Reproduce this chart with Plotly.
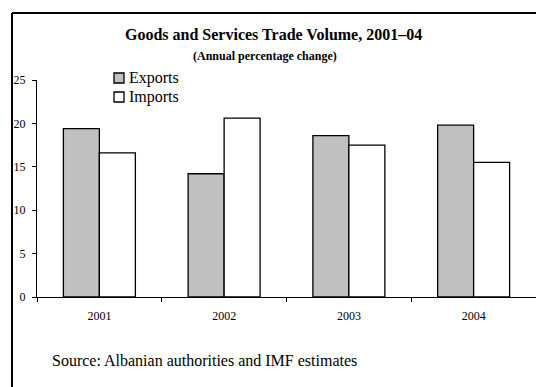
import plotly.graph_objects as go

# Trade volume growth, annual percentage change
years = ["2001", "2002", "2003", "2004"]
exports = [19.4, 14.2, 18.6, 19.8]
imports = [16.6, 20.6, 17.5, 15.5]

series_names = ["Exports", "Imports"]
series_fill = ["#c0c0c0", "white"]

W, H = 536, 387
ML, MR, MT, MB = 37, 0, 80, 90
PW = W - ML - MR
PH = H - MT - MB

SERIF = "Liberation Serif"


def px_x(px):
    # pixel column -> paper x
    return (px - ML) / PW


def px_y(py):
    # pixel row -> paper y
    return (H - MB - py) / PH


fig = go.Figure()
for name, vals, fill in zip(series_names, [exports, imports], series_fill):
    fig.add_trace(go.Bar(
        name=name, x=years, y=vals, showlegend=False,
        marker=dict(color=fill, line=dict(color="black", width=1.3)),
    ))

# outer frame (top and left edges)
frame = dict(color="black", width=2)
fig.add_shape(type="line", xref="paper", yref="paper",
              x0=px_x(12), x1=px_x(W + 5), y0=px_y(13), y1=px_y(13), line=frame)
fig.add_shape(type="line", xref="paper", yref="paper",
              x0=px_x(12), x1=px_x(12), y0=px_y(13), y1=px_y(H + 5), line=frame)

# legend key: small boxes with labels
for i, (name, fill) in enumerate(zip(series_names, series_fill)):
    cy = 78 + 19 * i
    fig.add_shape(type="rect", xref="paper", yref="paper",
                  x0=px_x(114), x1=px_x(124), y0=px_y(cy - 5), y1=px_y(cy + 5),
                  fillcolor=fill, line=dict(color="black", width=1.3))
    fig.add_annotation(
        text=name, xref="paper", yref="paper", x=px_x(127), y=px_y(cy),
        xanchor="left", yanchor="middle", showarrow=False,
        font=dict(family=SERIF, size=16, color="black"),
    )

fig.add_annotation(
    text="<b>Goods and Services Trade Volume, 2001\u201304</b>",
    xref="paper", yref="paper", x=px_x(273.5), y=px_y(35),
    xanchor="center", yanchor="middle", showarrow=False,
    font=dict(family=SERIF, size=16, color="black"),
)
fig.add_annotation(
    text="<b>(Annual percentage change)</b>",
    xref="paper", yref="paper", x=px_x(265), y=px_y(56),
    xanchor="center", yanchor="middle", showarrow=False,
    font=dict(family=SERIF, size=12, color="black"),
)
fig.add_annotation(
    text="Source: Albanian authorities and IMF estimates",
    xref="paper", yref="paper", x=px_x(50), y=px_y(360),
    xanchor="left", yanchor="middle", showarrow=False,
    font=dict(family=SERIF, size=16, color="black"),
)

fig.update_layout(
    width=W, height=H,
    margin=dict(l=ML, r=MR, t=MT, b=MB, pad=0),
    paper_bgcolor="white", plot_bgcolor="white",
    barmode="group", bargap=0.423, bargroupgap=0,
    font=dict(family=SERIF, size=12, color="black"),
    showlegend=False,
    xaxis=dict(
        type="category", range=[-0.5, 3.5],
        showline=True, linecolor="black", linewidth=1,
        ticks="outside", tickson="boundaries", ticklen=4, tickcolor="black",
        showgrid=False, ticklabelstandoff=8,
        tickfont=dict(family=SERIF, size=12, color="black"),
    ),
    yaxis=dict(
        range=[0, 25], dtick=5,
        showline=True, linecolor="black", linewidth=1,
        ticks="outside", ticklen=4, tickcolor="black",
        showgrid=False, zeroline=False, ticklabelstandoff=4,
        tickfont=dict(family=SERIF, size=12, color="black"),
    ),
)

fig.write_html("out.html")
